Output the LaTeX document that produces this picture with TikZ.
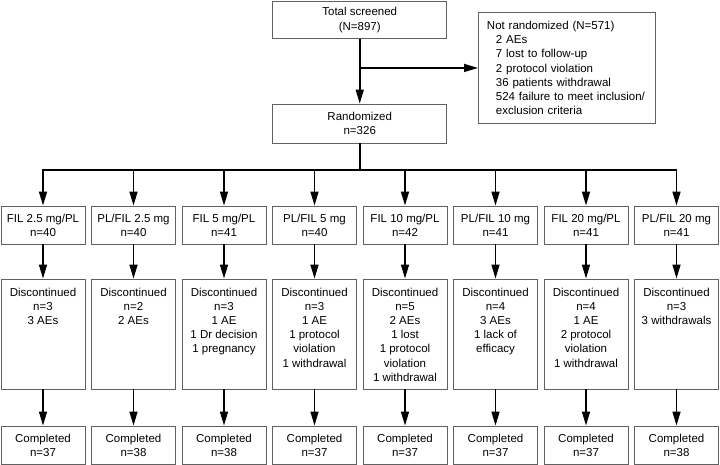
\documentclass[tikz,border=0pt]{standalone}
\usepackage{fontspec}
\setmainfont{Liberation Sans}
\usetikzlibrary{arrows.meta}
\begin{document}
\begin{tikzpicture}[x=1pt,y=-1pt,
  every node/.style={font=\fontsize{11.5}{14.2}\selectfont},
  box/.style={draw=black!62,line width=0.9pt,rectangle,inner sep=0pt,align=center,minimum width=84pt,minimum height=38pt},
  dtext/.style={inner sep=0pt,align=center,anchor=north},
  conn/.style={line width=1.5pt},
  arr/.style={line width=1.5pt,-{Triangle[length=14pt,width=8pt]}}]
\useasboundingbox (0,0) rectangle (720,465);
\node[box,minimum width=174pt,minimum height=37pt] (ts) at (359.75,20) {Total screened\\(N=897)};
\node[box,minimum width=174pt,minimum height=39pt] (rand) at (359.75,123.5) {Randomized\\n=326};
\node[draw=black!62,line width=0.9pt,rectangle,anchor=north west,minimum height=111pt,text width=160pt,inner xsep=8.5pt,inner ysep=0pt,align=left] (nr) at (478,12)
  {Not randomized (N=571)\\
   \hspace*{9pt}2 AEs\\
   \hspace*{9pt}7 lost to follow-up\\
   \hspace*{9pt}2 protocol violation\\
   \hspace*{9pt}36 patients withdrawal\\
   \hspace*{9pt}524 failure to meet inclusion/\\
   \hspace*{9pt}exclusion criteria};
\draw[arr] (ts.south) -- (rand.north);
\coordinate (sj) at (ts.south |- nr.west);
\draw[arr] (sj) -- (nr.west);
\foreach \i/\tr/\tn/\dis/\cn in {
  1/{FIL 2.5 mg/PL}/40/{n=3\\3 AEs}/37,
  2/{PL/FIL 2.5 mg}/40/{n=2\\2 AEs}/38,
  3/{FIL 5 mg/PL}/41/{n=3\\1 AE\\1 Dr decision\\1 pregnancy}/38,
  4/{PL/FIL 5 mg}/40/{n=3\\1 AE\\1 protocol\\violation\\1 withdrawal}/37,
  5/{FIL 10 mg/PL}/42/{n=5\\2 AEs\\1 lost\\1 protocol\\violation\\1 withdrawal}/37,
  6/{PL/FIL 10 mg}/41/{n=4\\3 AEs\\1 lack of\\efficacy}/37,
  7/{FIL 20 mg/PL}/41/{n=4\\1 AE\\2 protocol\\violation\\1 withdrawal}/37,
  8/{PL/FIL 20 mg}/41/{n=3\\3 withdrawals}/38}{
  \pgfmathsetmacro{\cx}{43+90.5*(\i-1)}
  \node[box] (t\i) at (\cx,225) {\tr\\n=\tn};
  \node[box,minimum height=110pt] (d\i) at (\cx,334) {};
  \node[dtext] (dt\i) at (\cx,287.6) {Discontinued\\\dis};
  \node[box] (c\i) at (\cx,445) {Completed\\n=\cn};
  \coordinate (b\i) at (\cx,170);
  \draw[arr] (b\i) -- (t\i.north);
  \draw[arr] (t\i.south) -- (d\i.north);
  \draw[arr] (d\i.south) -- (c\i.north);
}
\coordinate (bm) at (rand.south |- b1);
\draw[conn] (rand.south) -- (bm);
\draw[conn] ([xshift=-0.75pt]b1) -- ([xshift=0.75pt]b8);
\end{tikzpicture}
\end{document}
